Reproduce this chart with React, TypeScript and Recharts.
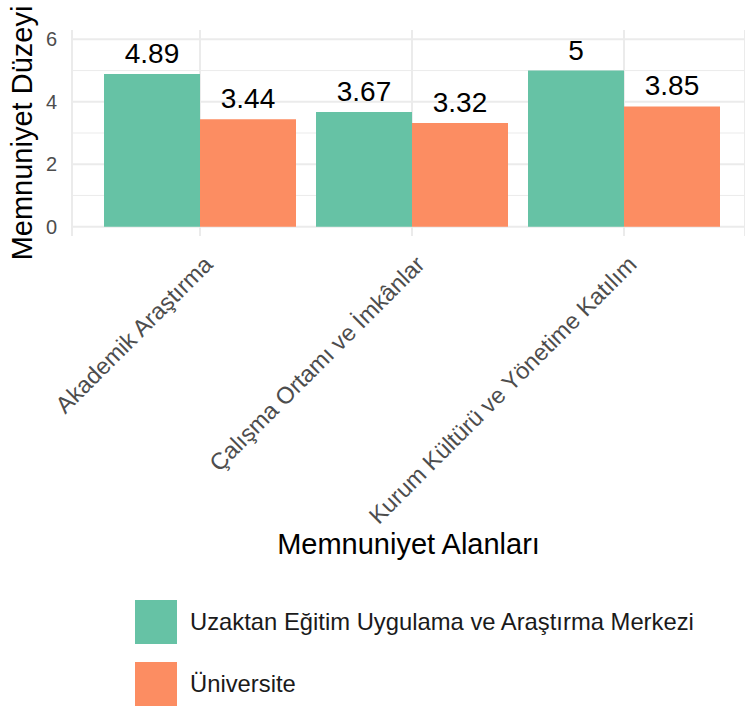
import { BarChart, Bar, XAxis, YAxis, CartesianGrid, LabelList, Legend } from "recharts";

// Memnuniyet alanlarına göre merkez vs üniversite ortalamaları
const categories = ["Akademik Araştırma", "Çalışma Ortamı ve İmkânlar", "Kurum Kültürü ve Yönetime Katılım"];
const merkezValues = [4.89, 3.67, 5];
const universiteValues = [3.44, 3.32, 3.85];
const seriesNames = ["Uzaktan Eğitim Uygulama ve Araştırma Merkezi", "Üniversite"];
const seriesColors = ["#66C2A5", "#FC8D62"];
const yTicks = [0, 2, 4, 6];
const yMinorTicks = [1, 3, 5];

const data = categories.map((alan, i) => ({
  alan,
  merkez: merkezValues[i],
  universite: universiteValues[i],
}));

const FONT = "'Liberation Sans', Arial, sans-serif";

function XTick({ x, y, payload }: any) {
  const ax = x + 14;
  const ay = y + 30;
  return (
    <text
      x={ax}
      y={ay}
      transform={`rotate(-45, ${ax}, ${ay})`}
      textAnchor="end"
      fontSize={23.5}
      fill="#4d4d4d"
    >
      {payload.value}
    </text>
  );
}

function LegendBox({ payload }: any) {
  return (
    <div style={{ position: "relative", width: 745, height: 120, fontFamily: FONT }}>
      {(payload || []).map((p: any, i: number) => (
        <div
          key={p.value}
          style={{ position: "absolute", left: 135, top: 10 + i * 62, display: "flex", alignItems: "center" }}
        >
          <div style={{ width: 42, height: 44, background: p.color }} />
          <span style={{ marginLeft: 13, fontSize: 23.8, color: "#1a1a1a" }}>{p.value}</span>
        </div>
      ))}
    </div>
  );
}

export default function App() {
  return (
    <div style={{ position: "absolute", left: 0, top: 0, fontFamily: FONT }}>
      <BarChart
        width={745}
        height={710}
        data={data}
        margin={{ top: 30, right: 0, left: 0, bottom: 34 }}
        barCategoryGap={10}
        barGap={0}
        style={{ fontFamily: FONT }}
      >
        <CartesianGrid horizontalValues={yMinorTicks} vertical={false} stroke="#ebebeb" strokeWidth={1} />
        <CartesianGrid horizontalValues={yTicks} stroke="#ebebeb" strokeWidth={2} />
        <XAxis
          dataKey="alan"
          axisLine={false}
          tickLine={false}
          tickSize={0}
          tickMargin={0}
          height={320}
          interval={0}
          padding={{ left: 22, right: 15 }}
          tick={<XTick />}
          label={{ value: "Memnuniyet Alanları", position: "insideBottom", offset: 2, fontSize: 29, fill: "#000" }}
        />
        <YAxis
          domain={[-0.3, 6.3]}
          ticks={yTicks}
          width={72}
          axisLine={false}
          tickLine={false}
          tickSize={0}
          tickMargin={15}
          tick={{ fontSize: 20, fill: "#4d4d4d" }}
          label={{
            value: "Memnuniyet Düzeyi",
            angle: -90,
            position: "insideLeft",
            offset: 22,
            fontSize: 29,
            fill: "#000",
            style: { textAnchor: "middle" },
          }}
        />
        <Bar dataKey="merkez" name={seriesNames[0]} fill={seriesColors[0]} isAnimationActive={false}>
          <LabelList dataKey="merkez" position="top" offset={11} fontSize={28} fill="#000" />
        </Bar>
        <Bar dataKey="universite" name={seriesNames[1]} fill={seriesColors[1]} isAnimationActive={false}>
          <LabelList dataKey="universite" position="top" offset={11} fontSize={28} fill="#000" />
        </Bar>
        <Legend
          verticalAlign="bottom"
          content={<LegendBox />}
          wrapperStyle={{ left: 0, top: 590, width: 745, height: 120 }}
        />
      </BarChart>
    </div>
  );
}
